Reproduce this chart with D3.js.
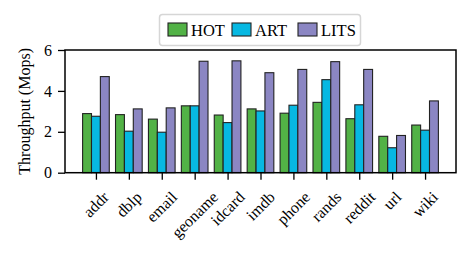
<!DOCTYPE html>
<html>
<head>
<meta charset="utf-8">
<script src="https://cdn.jsdelivr.net/npm/d3@7"></script>
<style>
  body { margin: 0; background: #fff; }
  svg text { font-family: 'Liberation Serif', 'DejaVu Serif', serif; fill: #000; }
</style>
</head>
<body>
<div id="chart"></div>
<script>
const datasets = ['addr', 'dblp', 'email', 'geoname', 'idcard', 'imdb', 'phone', 'rands', 'reddit', 'url', 'wiki']
const series = ['HOT', 'ART', 'LITS']
const hotValues = [2.89, 2.84, 2.62, 3.27, 2.82, 3.12, 2.91, 3.44, 2.64, 1.78, 2.33]
const artValues = [2.76, 2.03, 1.98, 3.27, 2.45, 3.02, 3.30, 4.55, 3.32, 1.22, 2.08]
const litsValues = [4.70, 3.12, 3.17, 5.45, 5.47, 4.89, 5.05, 5.43, 5.05, 1.82, 3.51]
const yTicks = [0, 2, 4, 6]
const colors = ['#52b246', '#07b8e2', '#8b86c3']

const W = 472
const H = 260
const margin = { top: 50, right: 16, bottom: 88, left: 65 }
const plotW = W - margin.left - margin.right
const plotH = H - margin.top - margin.bottom + 0.7

const svg = d3.select('#chart')
  .append('svg')
  .attr('width', W)
  .attr('height', H)

const g = svg.append('g')
  .attr('transform', `translate(${margin.left},${margin.top})`)

// x is continuous like matplotlib: one unit per dataset
const x = d3.scaleLinear().domain([-0.94, datasets.length - 1 + 0.94]).range([0, plotW])
const y = d3.scaleLinear().domain([0, 6]).range([plotH, 0])
const barW = 0.27
const allValues = [hotValues, artValues, litsValues]

allValues.forEach((vals, s) => {
  g.selectAll(null)
    .data(vals)
    .enter()
    .append('rect')
    .attr('x', (d, i) => x(i + (s - 1) * barW - barW / 2))
    .attr('y', d => y(d))
    .attr('width', x(barW) - x(0))
    .attr('height', d => y(0) - y(d))
    .attr('fill', colors[s])
    .attr('stroke', '#222')
    .attr('stroke-width', 1.1)
})

// frame
g.append('rect')
  .attr('x', 0).attr('y', 0)
  .attr('width', plotW).attr('height', plotH)
  .attr('fill', 'none')
  .attr('stroke', '#000')
  .attr('stroke-width', 1.5)

// y axis
const yAxis = g.append('g')
  .call(d3.axisLeft(y).tickValues(yTicks).tickSize(7).tickPadding(6).tickFormat(d3.format('d')))
yAxis.select('.domain').remove()
yAxis.selectAll('line').attr('stroke', '#000').attr('stroke-width', 1.3)
yAxis.selectAll('text').style('font-size', '16px').style('font-family', "'Liberation Serif', serif")

// x ticks
const xAxis = g.append('g')
  .attr('transform', `translate(0,${plotH})`)
  .call(d3.axisBottom(x).tickValues(d3.range(datasets.length)).tickSize(7).tickFormat(''))
xAxis.select('.domain').remove()
xAxis.selectAll('line').attr('stroke', '#000').attr('stroke-width', 1.3)

// rotated labels, centred on tick (matplotlib rotation=45, ha=center)
datasets.forEach((name, i) => {
  const t = g.append('text')
    .attr('text-anchor', 'middle')
    .attr('dominant-baseline', 'central')
    .style('font-size', '16px')
    .text(name)
  const w = t.node().getComputedTextLength()
  const h = 13
  const cy = plotH + 7 + 10 + (w + h) * Math.SQRT1_2 / 2
  t.attr('transform', `translate(${x(i)},${cy}) rotate(-45)`)
})

// y label
svg.append('text')
  .attr('transform', `translate(24,${margin.top + plotH / 2}) rotate(-90)`)
  .attr('text-anchor', 'middle')
  .attr('dominant-baseline', 'central')
  .style('font-size', '16px')
  .text('Throughput (Mops)')

// legend
const legend = svg.append('g')
legend.append('rect')
  .attr('x', 159.5).attr('y', 14.5)
  .attr('width', 201).attr('height', 31)
  .attr('rx', 3)
  .attr('fill', '#fff')
  .attr('stroke', '#d6d6d6')
  .attr('stroke-width', 1.5)

const legendX = [168, 232, 298]
series.forEach((name, s) => {
  legend.append('rect')
    .attr('x', legendX[s]).attr('y', 23)
    .attr('width', 19).attr('height', 13)
    .attr('fill', colors[s])
    .attr('stroke', '#222')
    .attr('stroke-width', 1.1)
  legend.append('text')
    .attr('x', legendX[s] + 23)
    .attr('y', 35.5)
    .style('font-size', '16.5px')
    .text(name)
})
</script>
</body>
</html>
